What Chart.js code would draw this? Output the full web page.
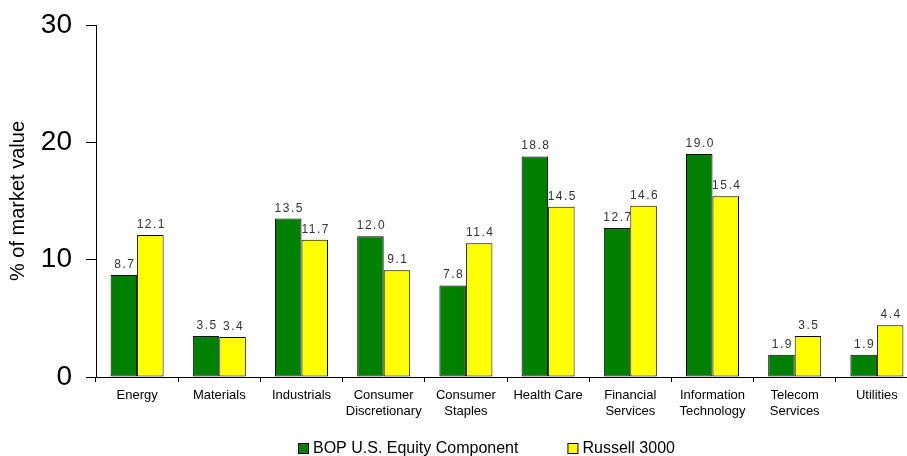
<!DOCTYPE html>
<html>
<head>
<meta charset="utf-8">
<script src="https://cdn.jsdelivr.net/npm/chart.js@4.4.1/dist/chart.umd.min.js"></script>
<style>
  html, body { margin: 0; padding: 0; background: #fff; overflow: hidden; }
  #wrap { width: 907px; height: 456px; overflow: hidden; }
</style>
</head>
<body>
<div id="wrap"><canvas id="chart" width="920" height="456"></canvas></div>
<script>
// ── DATA ─────────────────────────────────────────────────────────────────────

const sectors = [
  'Energy', 'Materials', 'Industrials', ['Consumer', 'Discretionary'], ['Consumer', 'Staples'],
  'Health Care', ['Financial', 'Services'], ['Information', 'Technology'], ['Telecom', 'Services'], 'Utilities'
]
const bopValues     = [8.7, 3.5, 13.5, 12.0, 7.8, 18.8, 12.7, 19.0, 1.9, 1.9]
const russellValues = [12.1, 3.4, 11.7, 9.1, 11.4, 14.5, 14.6, 15.4, 3.5, 4.4]
const seriesNames   = ['BOP U.S. Equity Component', 'Russell 3000']
const seriesColors  = ['#008000', '#ffff00']
const yTicks        = [0, 10, 20, 30]

const FONT = '"Liberation Sans", Arial, sans-serif'
Chart.defaults.font.family = FONT

// ── PLUGINS ──────────────────────────────────────────────────────────────────

// value printed above each bar
const valueLabels = {
  id: 'valueLabels',
  afterDatasetsDraw(chart) {
    const ctx = chart.ctx
    ctx.save()
    ctx.font = '12px ' + FONT
    ctx.fillStyle = '#333'
    ctx.textAlign = 'center'
    ctx.textBaseline = 'alphabetic'
    if ('letterSpacing' in ctx) ctx.letterSpacing = '1.5px'
    chart.data.datasets.forEach((ds, i) => {
      chart.getDatasetMeta(i).data.forEach((bar, j) => {
        ctx.fillText(ds.data[j].toFixed(1), bar.x + 1, bar.y - 7)
      })
    })
    ctx.restore()
  }
}

// legend row at the bottom, boxes + names
const bottomLegend = {
  id: 'bottomLegend',
  afterDraw(chart) {
    const ctx = chart.ctx
    const box = 10, gap = 5, itemGap = 49, centerX = 486, y = 449
    ctx.save()
    ctx.font = '16px ' + FONT
    ctx.textBaseline = 'middle'
    const widths = seriesNames.map(n => box + gap + ctx.measureText(n).width)
    const total = widths.reduce((a, b) => a + b, 0) + itemGap * (widths.length - 1)
    let x = Math.round(centerX - total / 2)
    seriesNames.forEach((name, i) => {
      ctx.fillStyle = seriesColors[i]
      ctx.fillRect(x + 0.5, y - 5.5, box, box)
      ctx.strokeStyle = '#000'
      ctx.lineWidth = 1
      ctx.strokeRect(x + 0.5, y - 5.5, box, box)
      ctx.fillStyle = '#000'
      ctx.fillText(name, x + box + gap, y)
      x += widths[i] + itemGap
    })
    ctx.restore()
  }
}

// ── CHART ────────────────────────────────────────────────────────────────────

new Chart(document.getElementById('chart').getContext('2d'), {
  type: 'bar',
  data: {
    labels: sectors,
    datasets: [bopValues, russellValues].map((data, i) => ({
      label: seriesNames[i],
      data,
      backgroundColor: seriesColors[i],
      borderColor: '#000',
      borderWidth: 1,
      borderSkipped: false,
      categoryPercentage: 0.645,
      barPercentage: 1
    }))
  },
  options: {
    responsive: false,
    animation: false,
    layout: { padding: { top: 25, right: 2, bottom: 0, left: 0 } },
    plugins: { legend: { display: false }, tooltip: { enabled: false } },
    scales: {
      x: {
        afterFit: s => { s.height = 79 },
        border: { color: '#000', width: 1 },
        grid: { drawOnChartArea: false, tickLength: 5, color: '#000', offset: true },
        ticks: {
          color: '#000', padding: 5, maxRotation: 0, autoSkip: false,
          font: { size: 13, lineHeight: 1.23 }
        }
      },
      y: {
        min: 0,
        max: 30,
        afterBuildTicks: s => { s.ticks = yTicks.map(v => ({ value: v })) },
        afterFit: s => { s.width = 96 },
        border: { color: '#000', width: 1 },
        grid: { drawOnChartArea: false, tickLength: 10, color: '#000' },
        ticks: { color: '#000', padding: 14, font: { size: 28, lineHeight: 0.6 } },
        title: {
          display: true, text: '% of market value', color: '#000',
          font: { size: 20 }, padding: { top: 6, bottom: 0 }
        }
      }
    }
  },
  plugins: [valueLabels, bottomLegend]
})
</script>
</body>
</html>
